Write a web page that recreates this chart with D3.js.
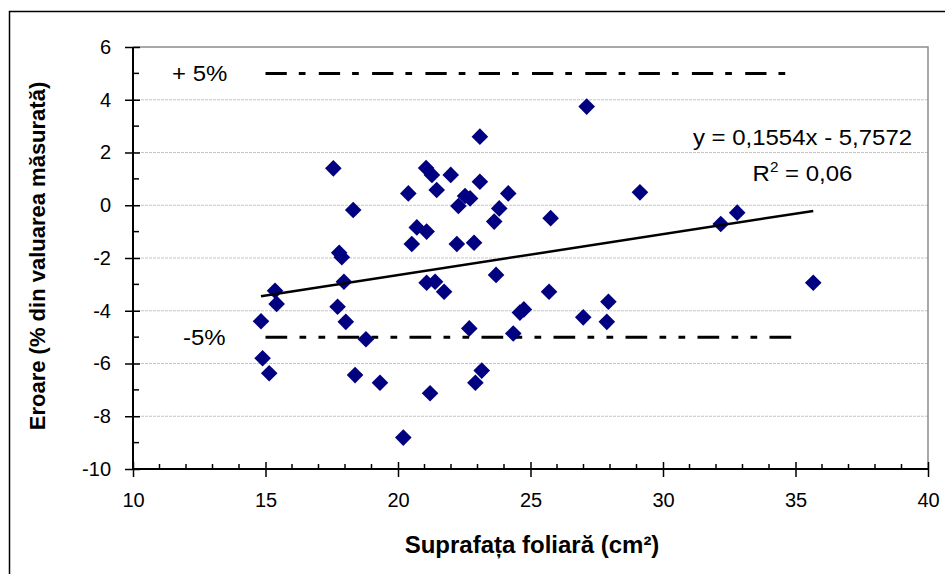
<!DOCTYPE html>
<html>
<head>
<meta charset="utf-8">
<script src="https://cdn.jsdelivr.net/npm/d3@7"></script>
<style>
  body { margin: 0; background: #fff; }
  svg text { font-family: "Liberation Sans", Arial, sans-serif; fill: #000; }
</style>
</head>
<body>
<div id="chart"></div>
<script>
// date: suprafata foliara (cm2) si eroarea (%)
const suprafata = [
  14.83, 14.89, 15.14, 15.36, 15.42, 17.56, 17.72, 17.78, 17.88, 17.96,
  18.03, 18.31, 18.38, 18.79, 19.32, 20.20, 20.39, 20.52, 20.71, 21.06,
  21.08, 21.28, 21.08, 21.21, 21.40, 21.46, 21.74, 21.99, 22.22, 22.28,
  22.53, 22.72, 22.69, 22.87, 22.92, 23.09, 23.09, 23.16, 23.63, 23.70,
  23.82, 24.16, 24.35, 24.60, 24.75, 25.70, 25.76, 26.99, 27.12, 27.94,
  27.88, 29.13, 32.18, 32.80, 35.67
];
const eroare = [
  -4.40, -5.80, -6.37, -3.24, -3.74, 1.40, -3.85, -1.80, -1.97, -2.90,
  -4.42, -0.18, -6.44, -5.08, -6.73, -8.81, 0.45, -1.47, -0.84, 1.41,
  -1.00, 1.15, -2.94, -7.13, -2.90, 0.58, -3.28, 1.15, -1.47, -0.03,
  0.35, 0.26, -4.67, -1.42, -6.73, 2.60, 0.89, -6.27, -0.62, -2.64,
  -0.12, 0.45, -4.86, -4.07, -3.95, -3.28, -0.49, -4.25, 3.74, -3.66,
  -4.42, 0.49, -0.71, -0.28, -2.94
];

const xTicks = [10, 15, 20, 25, 30, 35, 40];
const yTicks = [-10, -8, -6, -4, -2, 0, 2, 4, 6];

// linia de tendinta (Excel)
const panta = 0.1554;
const intercept = -5.7572;
const ecuatie = 'y = 0,1554x - 5,7572';
const r2Text = '0,06';

// limitele de +/- 5%
const limiteValori = [5, -5];
const limiteEtichete = ['+ 5%', '-5%'];
const limiteX = [15, 35];

const width = 945, height = 574;
const margin = { top: 47, right: 17, bottom: 105, left: 133 };
const w = width - margin.left - margin.right;
const h = height - margin.top - margin.bottom;

const svg = d3.select('#chart').append('svg')
  .attr('width', width)
  .attr('height', height);

// chenar exterior
svg.append('rect')
  .attr('x', 9.5).attr('y', 11.5)
  .attr('width', width).attr('height', height)
  .attr('fill', 'none')
  .attr('stroke', '#000')
  .attr('stroke-width', 1.5);

const g = svg.append('g')
  .attr('transform', `translate(${margin.left},${margin.top})`);

const x = d3.scaleLinear().domain([10, 40]).range([0, w]);
const y = d3.scaleLinear().domain([-10, 6]).range([h, 0]);

// text putin latit, ca in Excel
function eticheta(parent, px, py, anchor, size) {
  return parent.append('g')
    .attr('transform', `translate(${px},${py}) scale(1.09,1)`)
    .append('text')
    .attr('text-anchor', anchor)
    .style('font-size', size + 'px');
}

// grila orizontala
g.append('g')
  .selectAll('line')
  .data(yTicks.filter(d => d > -10 && d < 6))
  .enter().append('line')
  .attr('x1', 0).attr('x2', w)
  .attr('y1', d => y(d)).attr('y2', d => y(d))
  .attr('stroke', '#c4c4c4')
  .attr('stroke-width', 1)
  .attr('stroke-dasharray', '3,1');

// chenarul zonei de desen (sus si dreapta)
g.append('path')
  .attr('d', `M0,${y(6)}H${x(40)}V${y(-10)}`)
  .attr('fill', 'none')
  .attr('stroke', '#8c8c8c')
  .attr('stroke-width', 1.5);

// liniile de +/- 5%
const modele = ['21.3,12,6.7,13.3', '21.7,12.3,6.7,12.3,6.7,12.3'];
const etichetaX = [39, 50];
limiteValori.forEach((v, i) => {
  g.append('line')
    .attr('x1', x(limiteX[0])).attr('x2', x(limiteX[1]))
    .attr('y1', y(v)).attr('y2', y(v))
    .attr('stroke', '#000')
    .attr('stroke-width', 3)
    .attr('stroke-dasharray', modele[i]);
  eticheta(g, etichetaX[i], y(v), 'start', 22)
    .attr('dy', '0.36em')
    .text(limiteEtichete[i]);
});

// puncte
const puncte = suprafata.map((s, i) => ({ s: s, e: eroare[i] }));
const romb = d3.symbol().type(d3.symbolSquare).size(138);
g.selectAll('path.punct')
  .data(puncte)
  .enter().append('path')
  .attr('class', 'punct')
  .attr('d', romb)
  .attr('transform', d => `translate(${x(d.s)},${y(d.e)}) rotate(45)`)
  .attr('fill', '#000080');

// linia de tendinta
const xMin = d3.min(suprafata), xMax = d3.max(suprafata);
g.append('line')
  .attr('x1', x(xMin)).attr('y1', y(panta * xMin + intercept))
  .attr('x2', x(xMax)).attr('y2', y(panta * xMax + intercept))
  .attr('stroke', '#000')
  .attr('stroke-width', 2.5);

// ecuatia si R2
eticheta(g, 669.5, 98, 'middle', 22).text(ecuatie);
const r2 = eticheta(g, 669.5, 133.5, 'middle', 22);
r2.append('tspan').text('R');
r2.append('tspan').attr('dy', -9).style('font-size', '14px').text('2');
r2.append('tspan').attr('dy', 9).text(' = ' + r2Text);

// axa Y
const yAxis = g.append('g')
  .call(d3.axisLeft(y).tickValues(yTicks).tickSize(8).tickPadding(14).tickFormat(d => String(d)));
yAxis.select('.domain').attr('stroke-width', 2).attr('d', `M0,0V${h}`);
yAxis.selectAll('.tick line').attr('x1', 7).attr('stroke-width', 1.5);
yAxis.selectAll('.tick text').style('font-size', '20px').attr('font-family', null);
g.append('g')
  .selectAll('line')
  .data(d3.range(-9, 6, 2))
  .enter().append('line')
  .attr('x1', 0).attr('x2', 6)
  .attr('y1', d => y(d)).attr('y2', d => y(d))
  .attr('stroke', '#000').attr('stroke-width', 1.5);

// axa X
const xAxis = g.append('g')
  .attr('transform', `translate(0,${h})`)
  .call(d3.axisBottom(x).tickValues(xTicks).tickSize(8).tickPadding(16).tickFormat(d => String(d)));
xAxis.select('.domain').attr('stroke-width', 2).attr('d', `M0,0H${w}`);
xAxis.selectAll('.tick line').attr('y1', -7).attr('stroke-width', 1.5);
xAxis.selectAll('.tick text').style('font-size', '20px').attr('font-family', null);
g.append('g')
  .selectAll('line')
  .data(d3.range(11, 40, 1).filter(d => d % 5 !== 0))
  .enter().append('line')
  .attr('x1', d => x(d)).attr('x2', d => x(d))
  .attr('y1', h).attr('y2', h - 5)
  .attr('stroke', '#000').attr('stroke-width', 1.5);

// titluri axe
svg.append('text')
  .attr('transform', `translate(45,256) rotate(-90)`)
  .attr('text-anchor', 'middle')
  .style('font-size', '22px')
  .style('font-weight', 'bold')
  .text('Eroare (% din valuarea măsurată)');

svg.append('text')
  .attr('x', 532)
  .attr('y', 553)
  .attr('text-anchor', 'middle')
  .style('font-size', '24px')
  .style('font-weight', 'bold')
  .text('Suprafața foliară (cm²)');
</script>
</body>
</html>
